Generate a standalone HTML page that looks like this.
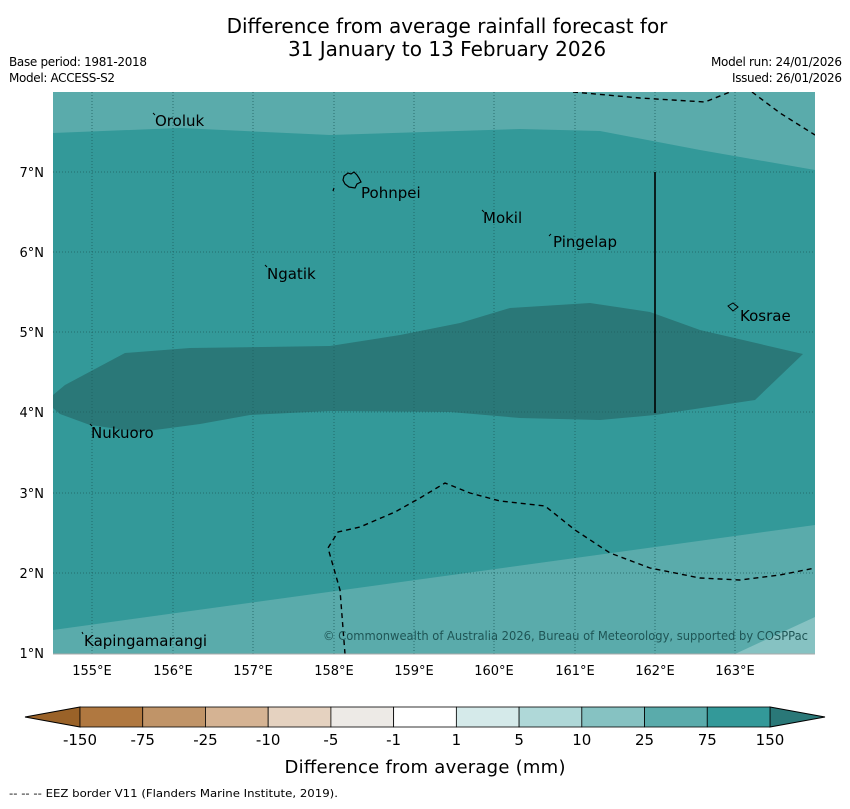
<!DOCTYPE html>
<html><head><meta charset="utf-8"><style>
body{margin:0;background:#fff;font-family:"Liberation Sans","DejaVu Sans",sans-serif}
svg text{font-family:"DejaVu Sans","Liberation Sans",sans-serif}
</style></head><body>
<svg width="850" height="804" viewBox="0 0 850 804">
<text x="447" y="33" font-size="20" text-anchor="middle">Difference from average rainfall forecast for</text>
<text x="447" y="56" font-size="20" text-anchor="middle">31 January to 13 February 2026</text>
<text x="9" y="66" font-size="12" textLength="138">Base period: 1981-2018</text>
<text x="9" y="82" font-size="12" textLength="106">Model: ACCESS-S2</text>
<text x="842" y="66" font-size="12" text-anchor="end" textLength="131">Model run: 24/01/2026</text>
<text x="842" y="82" font-size="12" text-anchor="end" textLength="110">Issued: 26/01/2026</text>
<g>
<clipPath id="c"><rect x="53" y="92" width="762" height="562"/></clipPath>
<g clip-path="url(#c)">
<rect x="53" y="92" width="762" height="562" fill="#339999"/>
<path d="M53,92 L815,92 L815,170 L700,150 L600,131 L520,129 L330,135 L180,128 L53,133 Z" fill="#5aabab"/>
<path d="M53,630 L815,525 L815,654 L53,654 Z" fill="#5aabab"/>
<path d="M735,654 L815,617 L815,654 Z" fill="#86c2c2"/>
<path d="M53,395 L65,385 L125,353 L190,348 L330,346 L400,335 L460,323 L510,308 L590,303 L650,312 L700,330 L803,354 L755,400 L655,415 L600,420 L520,418 L450,412 L330,411 L250,415 L200,424 L140,432 L90,425 L60,414 L53,408 Z" fill="#2a7878"/>
<g stroke="#1f5f5f" stroke-width="0.8" stroke-dasharray="1,2">
<line x1="92" y1="92" x2="92" y2="654"/><line x1="173" y1="92" x2="173" y2="654"/><line x1="253" y1="92" x2="253" y2="654"/><line x1="334" y1="92" x2="334" y2="654"/><line x1="414" y1="92" x2="414" y2="654"/><line x1="494" y1="92" x2="494" y2="654"/><line x1="575" y1="92" x2="575" y2="654"/><line x1="655" y1="92" x2="655" y2="654"/><line x1="735" y1="92" x2="735" y2="654"/>
<line x1="53" y1="172" x2="815" y2="172"/><line x1="53" y1="252" x2="815" y2="252"/><line x1="53" y1="332" x2="815" y2="332"/><line x1="53" y1="412" x2="815" y2="412"/><line x1="53" y1="493" x2="815" y2="493"/><line x1="53" y1="573" x2="815" y2="573"/>
</g>
<g fill="none" stroke="#000" stroke-width="1.4" stroke-dasharray="5,4">
<path d="M345,654 L340,590 L328,548 L338,532 L360,527 L395,512 L420,498 L445,483 L470,493 L500,501 L545,506 L575,530 L610,553 L650,568 L700,578 L740,580 L780,575 L815,568"/>
<path d="M573,92 L640,98 L705,102 L735,90"/>
<path d="M752,92 L780,113 L815,135"/>
</g>
<line x1="655" y1="172" x2="655" y2="413" stroke="#000" stroke-width="1.6"/>
<path d="M344,176 L348,173 L351,174 L354,172 L357,175 L359,178 L361,182 L357,184 L355,188 L349,187 L345,184 L343,180 Z" fill="none" stroke="#000" stroke-width="1.2"/>
<line x1="334" y1="188" x2="333" y2="191" stroke="#000" stroke-width="1.2"/>
<path d="M728,306 L733,303 L738,307 L733,311 Z" fill="none" stroke="#000" stroke-width="1"/>
<g stroke="#000" stroke-width="1">
<line x1="153" y1="113" x2="155" y2="115"/><line x1="482" y1="210" x2="484" y2="212"/><line x1="549" y1="236" x2="551" y2="234"/><line x1="265" y1="265" x2="267" y2="267"/><line x1="90" y1="424" x2="92" y2="426"/><line x1="82" y1="632" x2="83" y2="634"/>
</g>
<g font-size="15" fill="#000">
<text x="155" y="126">Oroluk</text><text x="361" y="198">Pohnpei</text><text x="483" y="223">Mokil</text><text x="553" y="247">Pingelap</text><text x="267" y="279">Ngatik</text><text x="740" y="321">Kosrae</text><text x="91" y="438">Nukuoro</text><text x="84" y="646">Kapingamarangi</text>
</g>
<text x="808" y="640" font-size="12" fill="#1e5555" text-anchor="end" textLength="485" lengthAdjust="spacingAndGlyphs">© Commonwealth of Australia 2026, Bureau of Meteorology, supported by COSPPac</text>
</g>
<line x1="53" y1="654" x2="815" y2="654" stroke="#aaa" stroke-width="1"/>
</g>
<g font-size="13">
<text x="44" y="177" text-anchor="end">7°N</text><text x="44" y="257" text-anchor="end">6°N</text><text x="44" y="337" text-anchor="end">5°N</text><text x="44" y="417" text-anchor="end">4°N</text><text x="44" y="498" text-anchor="end">3°N</text><text x="44" y="578" text-anchor="end">2°N</text><text x="44" y="658" text-anchor="end">1°N</text>
</g>
<g font-size="13" text-anchor="middle">
<text x="92" y="675">155°E</text><text x="173" y="675">156°E</text><text x="253" y="675">157°E</text><text x="334" y="675">158°E</text><text x="414" y="675">159°E</text><text x="494" y="675">160°E</text><text x="575" y="675">161°E</text><text x="655" y="675">162°E</text><text x="735" y="675">163°E</text>
</g>
<g id="cb"></g>
<text x="425" y="773" font-size="18" text-anchor="middle" textLength="281">Difference from average (mm)</text>
<text x="9" y="797" font-size="11" textLength="329" lengthAdjust="spacingAndGlyphs">--  --  -- EEZ border V11 (Flanders Marine Institute, 2019).</text>
</svg>
<script>
const cbColors=["#b07840","#c09468","#d5b393","#e5d2c0","#edeae6","#ffffff","#d5eaea","#afd8d8","#86c2c2","#5aabab","#339999"];
const cbLabels=["-150","-75","-25","-10","-5","-1","1","5","10","25","75","150"];
const underColor="#9a6228",overColor="#2a7878";
const g=document.getElementById('cb');const NS="http://www.w3.org/2000/svg";
const x0=80,x1=770,y0=707,h=20,w=(x1-x0)/cbColors.length;
function mk(t,a){const e=document.createElementNS(NS,t);for(const k in a)e.setAttribute(k,a[k]);g.appendChild(e);return e;}
let p=mk('polygon',{points:`${x0},${y0} ${x0},${y0+h} 25,${y0+h/2}`,fill:underColor,stroke:'#000','stroke-width':1});


p=mk('polygon',{points:`${x1},${y0} ${x1},${y0+h} 825,${y0+h/2}`,fill:overColor,stroke:'#000','stroke-width':1});


cbColors.forEach((c,i)=>{const r=mk('rect',{x:x0+i*w,y:y0,width:w,height:h,fill:c,stroke:'#000','stroke-width':0.8});

});
cbLabels.forEach((l,i)=>{const t=mk('text',{x:x0+i*w,y:745,'font-size':15,'text-anchor':'middle'});t.textContent=l;

});
</script>
</body></html>
